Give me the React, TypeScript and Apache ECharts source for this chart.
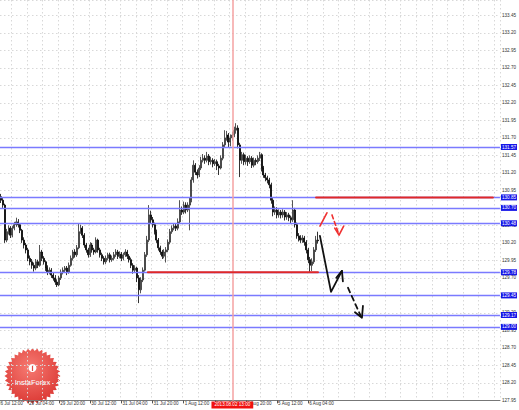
import React, { useEffect, useRef } from "react";
import * as echarts from "echarts";

// ---- data ----
const PAD_BEFORE = 4; // hourly slots left of the first drawn bar (off-screen)
const TOTAL_SLOTS = 261;
const firstOpen = 130.86;
const closes = [
  130.81,130.74,130.24,130.36,130.41,130.31,130.41,130.46,130.50,130.46,
  130.38,130.24,130.17,130.10,129.98,129.93,129.88,129.84,129.93,129.88,
  130.07,129.98,129.93,129.84,129.78,129.81,129.74,129.70,129.64,129.60,
  129.70,129.78,129.81,129.84,129.78,129.88,129.98,130.07,130.03,130.13,
  130.36,130.41,130.31,130.17,130.10,130.03,130.17,130.10,130.07,130.24,
  130.10,130.03,129.98,129.93,129.98,130.03,129.96,129.98,130.03,130.07,
  130.01,130.04,129.98,130.03,130.07,130.01,129.96,129.88,129.81,129.84,
  129.70,129.53,129.67,129.81,130.03,130.24,130.60,130.53,130.46,130.36,
  130.24,130.13,130.07,130.01,130.07,130.10,130.21,130.36,130.41,130.44,
  130.41,130.50,130.67,130.64,130.74,130.67,130.74,130.81,131.10,131.31,
  131.21,131.17,131.27,131.38,131.41,131.38,131.44,131.36,131.38,131.33,
  131.36,131.30,131.27,131.41,131.60,131.70,131.74,131.64,131.70,131.74,
  131.81,131.84,131.60,131.38,131.46,131.36,131.41,131.36,131.41,131.31,
  131.38,131.36,131.41,131.46,131.27,131.17,131.13,131.10,131.03,130.81,
  130.64,130.67,130.60,130.64,130.60,130.64,130.57,130.60,130.56,130.53,
  130.67,130.46,130.30,130.27,130.24,130.27,130.21,130.10,129.96,129.88,
  129.93,130.10,130.24,130.23,
];
const highs = [
  130.90,130.84,130.76,130.40,130.45,130.44,130.44,130.50,130.56,130.54,
  130.48,130.40,130.28,130.20,130.13,130.02,129.97,129.92,129.97,129.96,
  130.17,130.10,130.01,129.95,129.88,129.85,129.84,129.78,129.74,129.68,
  129.73,129.82,129.85,129.87,129.87,129.92,130.02,130.10,130.11,130.17,
  130.48,130.46,130.44,130.34,130.20,130.13,130.21,130.20,130.13,130.28,
  130.26,130.13,130.06,130.01,130.02,130.06,130.06,130.02,130.07,130.11,
  130.10,130.08,130.07,130.06,130.11,130.10,130.04,129.99,129.91,129.88,
  129.86,129.74,129.71,129.85,130.07,130.30,130.74,130.66,130.57,130.49,
  130.39,130.27,130.16,130.10,130.11,130.14,130.25,130.40,130.45,130.48,
  130.47,130.55,130.81,130.72,130.79,130.78,130.78,130.85,131.14,131.38,
  131.34,131.25,131.31,131.43,131.47,131.45,131.50,131.47,131.43,131.41,
  131.40,131.39,131.33,131.45,131.64,131.81,131.80,131.77,131.75,131.79,
  131.86,131.91,131.88,131.63,131.50,131.49,131.46,131.44,131.45,131.44,
  131.42,131.41,131.45,131.50,131.48,131.30,131.20,131.16,131.13,131.06,
  130.84,130.72,130.71,130.68,130.67,130.68,130.67,130.64,130.63,130.59,
  130.81,130.70,130.49,130.34,130.31,130.31,130.30,130.24,130.13,130.00,
  129.98,130.14,130.30,130.36,
];
const lows = [
  130.77,130.70,130.20,130.21,130.32,130.27,130.28,130.38,130.43,130.42,
  130.34,130.20,130.12,130.05,129.94,129.88,129.83,129.79,129.81,129.84,
  129.86,129.94,129.89,129.80,129.74,129.75,129.70,129.66,129.60,129.57,
  129.58,129.67,129.75,129.77,129.74,129.76,129.86,129.95,129.99,130.00,
  130.11,130.33,130.27,130.13,130.06,129.99,130.00,130.06,130.03,130.05,
  130.06,129.99,129.94,129.89,129.90,129.95,129.92,129.93,129.95,130.00,
  129.97,129.98,129.94,129.95,130.00,129.97,129.92,129.84,129.76,129.77,
  129.64,129.34,129.48,129.64,129.79,130.00,130.21,130.48,130.42,130.32,
  130.20,130.09,130.03,129.97,129.98,129.92,130.07,130.18,130.33,130.38,
  130.37,130.38,130.47,130.60,130.61,130.62,130.64,130.38,130.78,131.06,
  131.17,131.12,131.14,131.24,131.35,131.33,131.35,131.31,131.32,131.28,
  131.30,131.24,131.17,131.25,131.38,131.56,131.66,131.57,131.58,131.66,
  131.71,131.76,131.55,131.14,131.33,131.31,131.32,131.30,131.33,131.27,
  131.28,131.31,131.33,131.37,131.22,131.13,131.08,131.05,130.98,130.76,
  130.58,130.60,130.55,130.56,130.55,130.56,130.52,130.53,130.51,130.48,
  130.50,130.42,130.26,130.22,130.20,130.20,130.16,130.05,129.91,129.78,
  129.80,129.90,130.07,130.19,
];

const tickLabels = [
  "26 Jul 12:00", "29 Jul 04:00", "29 Jul 20:00", "30 Jul 12:00", "31 Jul 04:00",
  "31 Jul 20:00", "1 Aug 12:00", "2 Aug 04:00", "2 Aug 20:00", "5 Aug 12:00", "6 Aug 04:00",
];
const TICK_START = 2;
const TICK_STEP = 16;
const GRID_STEP = 8;

const yMin = 127.95;
const yMax = 133.67;
const yStep = 0.25;

const levelLines = [131.57, 130.85, 130.7, 130.48, 129.78, 129.45, 129.17, 129.0];
const currentPrice = 130.23;
const markerSlot = 123;
const markerLabel = "2013.08.02 13:00";

// drawn annotations: [slot, price] pairs
const redLevelSegments = [
  [[79.6, 129.78], [167.0, 129.78]],
  [[166.0, 130.85], [256.9, 130.85]],
];
const redArrowSolid = [
  [[168.0, 130.44], [171.6, 130.63]],
];
const redArrowDashed = [
  [[174.2, 130.6], [177.6, 130.33]],
];
const redArrowHead = [
  [[175.6, 130.41], [177.8, 130.31], [180.2, 130.44]],
];
const blackArrowSolid = [
  [[168.0, 130.3], [173.7, 129.5], [179.3, 129.8]],
  [[176.4, 129.7], [179.3, 129.8], [179.8, 129.65]],
  [[186.0, 129.21], [189.6, 129.13], [190.1, 129.3]],
];
const blackArrowDashed = [
  [[182.4, 129.56], [188.9, 129.16]],
];

export default function App() {
  const ref = useRef<HTMLDivElement>(null);
  useEffect(() => {
    if (!ref.current) return;
    const chart = echarts.init(ref.current, null, { renderer: "svg" });
    const font = "Liberation Sans";
    const categories = Array.from({ length: TOTAL_SLOTS }, (_, k) => String(k));
    const candles: any[] = [];
    for (let k = 0; k < PAD_BEFORE; k++) candles.push("-");
    closes.forEach((c, i) => {
      const o = i === 0 ? firstOpen : closes[i - 1];
      candles.push([o, c, lows[i], highs[i]]);
    });
    const isTick = (idx: number) =>
      (idx - TICK_START) % TICK_STEP === 0 &&
      idx >= TICK_START &&
      (idx - TICK_START) / TICK_STEP < tickLabels.length;

    const segSeries = (segs: number[][][], color: string, width: number, type: any) =>
      segs.map((s) => ({
        type: "line",
        xAxisIndex: 1,
        data: s,
        symbol: "none",
        silent: true,
        z: 5,
        lineStyle: { color, width, type, cap: "round", join: "round" },
      }));

    const boxLabel = (bg: string) => ({
      show: true,
      position: "end",
      distance: 1,
      formatter: (p: any) => Number(p.value).toFixed(2),
      backgroundColor: bg,
      color: "#fff",
      fontSize: 4.6,
      fontFamily: font,
      padding: [1, 1, 0, 1],
    });

    chart.setOption({
      animation: false,
      grid: { left: 0, right: 19, top: 0, bottom: 9.6, containLabel: false },
      xAxis: [
        {
          type: "category",
          data: categories,
          axisLine: { show: true, lineStyle: { color: "#777", width: 1 } },
          axisTick: {
            show: true,
            alignWithLabel: true,
            interval: (idx: number) => isTick(idx),
            length: 3,
            lineStyle: { color: "#555" },
          },
          axisLabel: {
            show: true,
            interval: (idx: number) => isTick(idx),
            formatter: (_v: string, idx: number) =>
              isTick(idx) ? tickLabels[(idx - TICK_START) / TICK_STEP] : "",
            align: "left",
            fontSize: 4.6,
            fontFamily: font,
            color: "#333",
            margin: 1,
            padding: [0, 0, 0, 1],
          },
          splitLine: {
            show: true,
            interval: (idx: number) => (idx - TICK_START) % GRID_STEP === 0,
            lineStyle: { color: "#d8d8d8", type: [1.5, 2.5], width: 1 },
          },
        },
        {
          type: "value",
          min: -0.5,
          max: TOTAL_SLOTS - 0.5,
          show: false,
        },
      ],
      yAxis: {
        type: "value",
        position: "right",
        min: yMin,
        max: yMax,
        interval: yStep,
        scale: true,
        axisLine: { show: true, lineStyle: { color: "#777", width: 1 } },
        axisTick: { show: true, length: 2, lineStyle: { color: "#777" } },
        axisLabel: {
          showMaxLabel: false,
          formatter: (v: number) => v.toFixed(2),
          fontSize: 4.6,
          fontFamily: font,
          color: "#333",
          margin: 2,
        },
        splitLine: { show: true, lineStyle: { color: "#d8d8d8", type: [1.5, 2.5], width: 1 } },
      },
      series: [
        {
          type: "candlestick",
          data: candles,
          barWidth: 1.5,
          itemStyle: {
            color: "#a8a8a8",
            color0: "#000000",
            borderColor: "#2a2a2a",
            borderColor0: "#000000",
            borderWidth: 0.8,
          },
          markLine: {
            silent: true,
            symbol: ["none", "none"],
            animation: false,
            data: [
              ...levelLines.map((v) => ({
                yAxis: v,
                lineStyle: { color: "#7a7aff", width: 1.4, type: "solid" },
                label: boxLabel("#1616e8"),
              })),
              {
                yAxis: currentPrice,
                lineStyle: { color: "#000", width: 0, opacity: 0 },
                label: boxLabel("#000000"),
              },
              {
                xAxis: String(markerSlot),
                lineStyle: { color: "#f4a2a2", width: 1.5, type: "solid" },
                label: {
                  show: true,
                  position: "start",
                  distance: 1,
                  formatter: markerLabel,
                  backgroundColor: "#f01010",
                  color: "#fff",
                  fontSize: 4.6,
                  fontFamily: font,
                  padding: [1, 3, 1, 3],
                },
              },
            ],
          },
        },
        ...segSeries(redLevelSegments, "#e02828", 2, "solid"),
        ...segSeries(redArrowSolid, "#f03030", 1.6, "solid"),
        ...segSeries(redArrowDashed, "#f03030", 1.6, [4, 3]),
        ...segSeries(redArrowHead, "#f03030", 1.6, "solid"),
        ...segSeries(blackArrowSolid, "#111", 1.8, "solid"),
        ...segSeries(blackArrowDashed, "#111", 1.8, [5, 4]),
      ],
      graphic: [
        {
          type: "group",
          x: 40.5,
          y: 376,
          z: 100,
          children: [
            {
              type: "polygon",
              shape: {
                points: Array.from({ length: 72 }, (_, j) => {
                  const a = (j * Math.PI) / 36;
                  const r = j % 2 === 0 ? 28 : 25;
                  return [r * Math.cos(a), r * Math.sin(a)];
                }),
              },
              style: {
                fill: new echarts.graphic.RadialGradient(0.45, 0.35, 0.75, [
                  { offset: 0, color: "#f67a72" },
                  { offset: 1, color: "#d8302c" },
                ]),
              },
            },
            {
              type: "circle",
              shape: { cx: 0, cy: -8, r: 4 },
              style: { fill: "#fff" },
            },
            {
              type: "rect",
              shape: { x: -0.6, y: -10, width: 1.2, height: 5 },
              style: { fill: "#e04a44" },
            },
            {
              type: "text",
              x: 0,
              y: 6,
              style: {
                text: "InstaForex",
                fill: "#fff",
                fontSize: 7.5,
                fontFamily: font,
                align: "center",
                verticalAlign: "middle",
              },
            },
          ],
        },
      ],
    });
    return () => chart.dispose();
  }, []);
  return (
    <div
      ref={ref}
      style={{ position: "absolute", left: -8, top: 0, width: 527, height: 410, background: "#fff" }}
    />
  );
}
